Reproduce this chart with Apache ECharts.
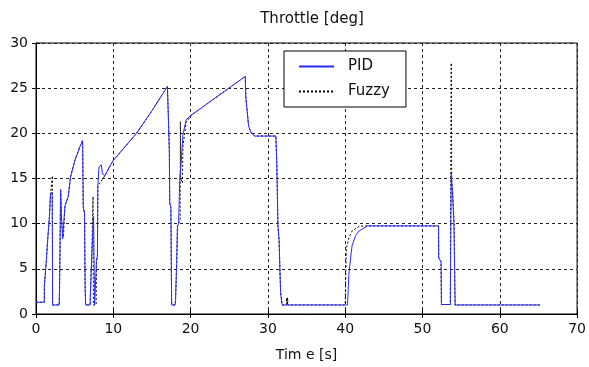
<!DOCTYPE html>
<html><head><meta charset="utf-8">
<script src="https://cdn.jsdelivr.net/npm/echarts@6/dist/echarts.min.js"></script>
<style>html,body{margin:0;padding:0;background:#fff}#c{width:589px;height:367px}</style>
</head><body><div id="c"></div>
<script>
const titleText = 'Throttle [deg]';
const xAxisName = 'Tim e [s]';
const seriesNames = ['PID', 'Fuzzy'];
const xTicks = [0, 10, 20, 30, 40, 50, 60, 70];
const yTicks = [0, 5, 10, 15, 20, 25, 30];

const pidT = [0,1.07,1.08,1.3,1.32,1.5,1.52,1.72,1.74,1.85,1.87,2.05,2.08,2.12,2.15,3.0,3.05,3.12,3.18,3.28,3.45,3.62,3.75,4.17,4.47,5.03,5.67,6.03,6.12,6.28,6.35,6.42,7.0,7.05,7.22,7.35,7.45,7.55,7.58,7.78,7.82,7.95,8.0,8.15,8.45,8.6,8.93,9.5,10.0,11.3,13.0,15.0,17.0,17.1,17.25,17.3,17.45,17.5,17.55,18.0,18.05,18.2,18.3,18.45,18.6,18.8,19.0,19.42,20.07,27.07,27.15,27.35,27.5,27.8,28.3,31.03,31.15,31.3,31.45,31.55,31.65,31.85,40.3,40.48,40.7,40.9,41.35,41.8,42.9,52.08,52.1,52.4,52.45,53.6,53.72,53.9,54.05,54.23,65.2];
const pidV = [1.3,1.3,3.1,3.1,5.7,5.7,8.3,8.3,10.8,10.8,13.2,13.3,13.5,8,1.0,1.0,3,8,13.8,11,8.3,10.5,12,13,15.2,17,18.5,19.2,11.8,11.2,3,1.0,1.0,2.5,6.6,6.6,10.8,11,1.0,1.0,5.8,6.5,14.2,16.3,16.5,15.5,15.3,16.3,17,18.3,20,22.5,25.2,22.5,18,12.3,11.8,5.9,1.0,1.0,1.5,5.6,9.7,10,15,17,19.8,21.5,22,26.3,23.9,22.2,20.8,20.1,19.7,19.7,16.7,9.7,8.2,5.0,2.3,1.0,1.0,4.4,6.2,7.6,8.7,9.2,9.75,9.75,6.2,5.8,1.05,1.05,15.6,13.0,10.4,1.0,1.0];

const fuzzyT = [0,1.07,1.08,1.3,1.32,1.5,1.52,1.72,1.74,1.85,1.87,2.05,2.12,2.14,3.0,3.05,3.12,3.2,3.3,3.45,3.55,3.65,3.75,4.17,4.47,5.03,5.67,6.03,6.1,6.28,6.35,6.42,7.0,7.05,7.22,7.35,7.38,7.42,7.78,7.82,7.95,8.0,8.9,10.0,11.3,13.0,15.0,17.0,17.1,17.25,17.3,17.45,17.5,17.55,18.0,18.05,18.2,18.3,18.65,18.68,18.72,18.95,19.0,19.42,20.07,27.07,27.15,27.35,27.5,27.8,28.3,31.03,31.15,31.3,31.45,31.55,31.65,31.85,32.4,32.42,32.5,32.55,32.6,40.0,40.05,40.15,40.5,40.9,41.8,42.6,52.08,52.1,52.4,52.45,53.6,53.72,53.78,53.9,54.1,54.2,65.2];
const fuzzyV = [1.3,1.3,3.1,3.1,5.7,5.7,8.3,8.3,10.8,10.8,13.2,13.3,15.3,1.0,1.0,3,9,13.6,10.5,9,8.5,10.3,12,13,15.2,17,18.5,19.2,12,11,3.5,1.0,1.0,2.5,6.6,6.6,13,1.0,1.0,5.8,6.5,14.2,15.3,17,18.3,20,22.5,25.2,22.5,18,12.3,11.8,5.9,1.0,1.0,1.5,5.6,9.7,10.5,21.3,15,14.5,18.5,21.2,22,26.3,23.9,22.2,20.8,20.1,19.7,19.7,16.7,9.7,8.2,5.0,2.3,1.0,1.0,1.8,1.0,1.8,1.0,1.0,3.7,7.2,8.5,9.2,9.7,9.75,9.75,6.2,5.8,1.05,1.05,27.8,15,13.5,10,1.0,1.0];

const pidData = pidT.map((t, i) => [t, pidV[i]]);
const fuzzyData = fuzzyT.map((t, i) => [t, fuzzyV[i]]);

const FONT = 'DejaVu Sans';
const chart = echarts.init(document.getElementById('c'), null, {renderer: 'canvas'});
const xMin = xTicks[0], xMax = xTicks[xTicks.length - 1], xInt = xTicks[1] - xTicks[0];
const yMin = yTicks[0], yMax = yTicks[yTicks.length - 1], yInt = yTicks[1] - yTicks[0];
const tickStyle = {show: true, inside: true, length: 4, lineStyle: {color: '#000'}};
chart.setOption({
  animation: false,
  backgroundColor: '#fff',
  title: {text: titleText, left: 307, top: 7, textAlign: 'center',
    textStyle: {fontFamily: FONT, fontSize: 15, fontWeight: 'normal', color: '#111'}},
  grid: {left: 36, right: 10, top: 43, bottom: 53, show: true, borderColor: '#000', borderWidth: 1},
  legend: {
    orient: 'vertical', left: 284, top: 51,
    padding: [8, 16, 8, 14], itemGap: 10, itemWidth: 35, itemHeight: 14,
    borderColor: '#000', borderWidth: 1, backgroundColor: '#fff',
    itemStyle: {opacity: 0},
    textStyle: {fontFamily: FONT, fontSize: 15, color: '#111', padding: [0, 0, 0, 9]},
    data: seriesNames
  },
  xAxis: [{
    type: 'value', min: xMin, max: xMax, interval: xInt,
    name: xAxisName, nameLocation: 'middle', nameGap: 34,
    nameTextStyle: {fontFamily: FONT, fontSize: 14, color: '#111'},
    axisLine: {show: true, lineStyle: {color: '#000'}},
    axisTick: tickStyle,
    axisLabel: {fontFamily: FONT, fontSize: 14, color: '#111', margin: 8},
    splitLine: {show: true, lineStyle: {color: '#222', type: [3, 3], width: 1}}
  }, {
    type: 'value', position: 'top', min: xMin, max: xMax, interval: xInt,
    axisLine: {show: true, lineStyle: {color: '#000'}}, axisTick: tickStyle,
    axisLabel: {show: false}, splitLine: {show: false}
  }],
  yAxis: [{
    type: 'value', min: yMin, max: yMax, interval: yInt,
    axisLine: {show: true, lineStyle: {color: '#000'}},
    axisTick: tickStyle,
    axisLabel: {fontFamily: FONT, fontSize: 14, color: '#111', margin: 8},
    splitLine: {show: true, lineStyle: {color: '#222', type: [3, 3], width: 1}}
  }, {
    type: 'value', position: 'right', min: yMin, max: yMax, interval: yInt,
    axisLine: {show: true, lineStyle: {color: '#000'}}, axisTick: tickStyle,
    axisLabel: {show: false}, splitLine: {show: false}
  }],
  series: [{
    name: seriesNames[0], type: 'line', data: pidData, symbol: 'none', showSymbol: false,
    lineStyle: {color: '#2a2aff', width: 1}, itemStyle: {color: '#2a2aff'}, z: 3
  }, {
    name: seriesNames[1], type: 'line', data: fuzzyData, symbol: 'none', showSymbol: false,
    lineStyle: {color: '#000', width: 1, type: [2, 2]}, itemStyle: {color: '#000'}, z: 2
  }]
});
</script></body></html>
